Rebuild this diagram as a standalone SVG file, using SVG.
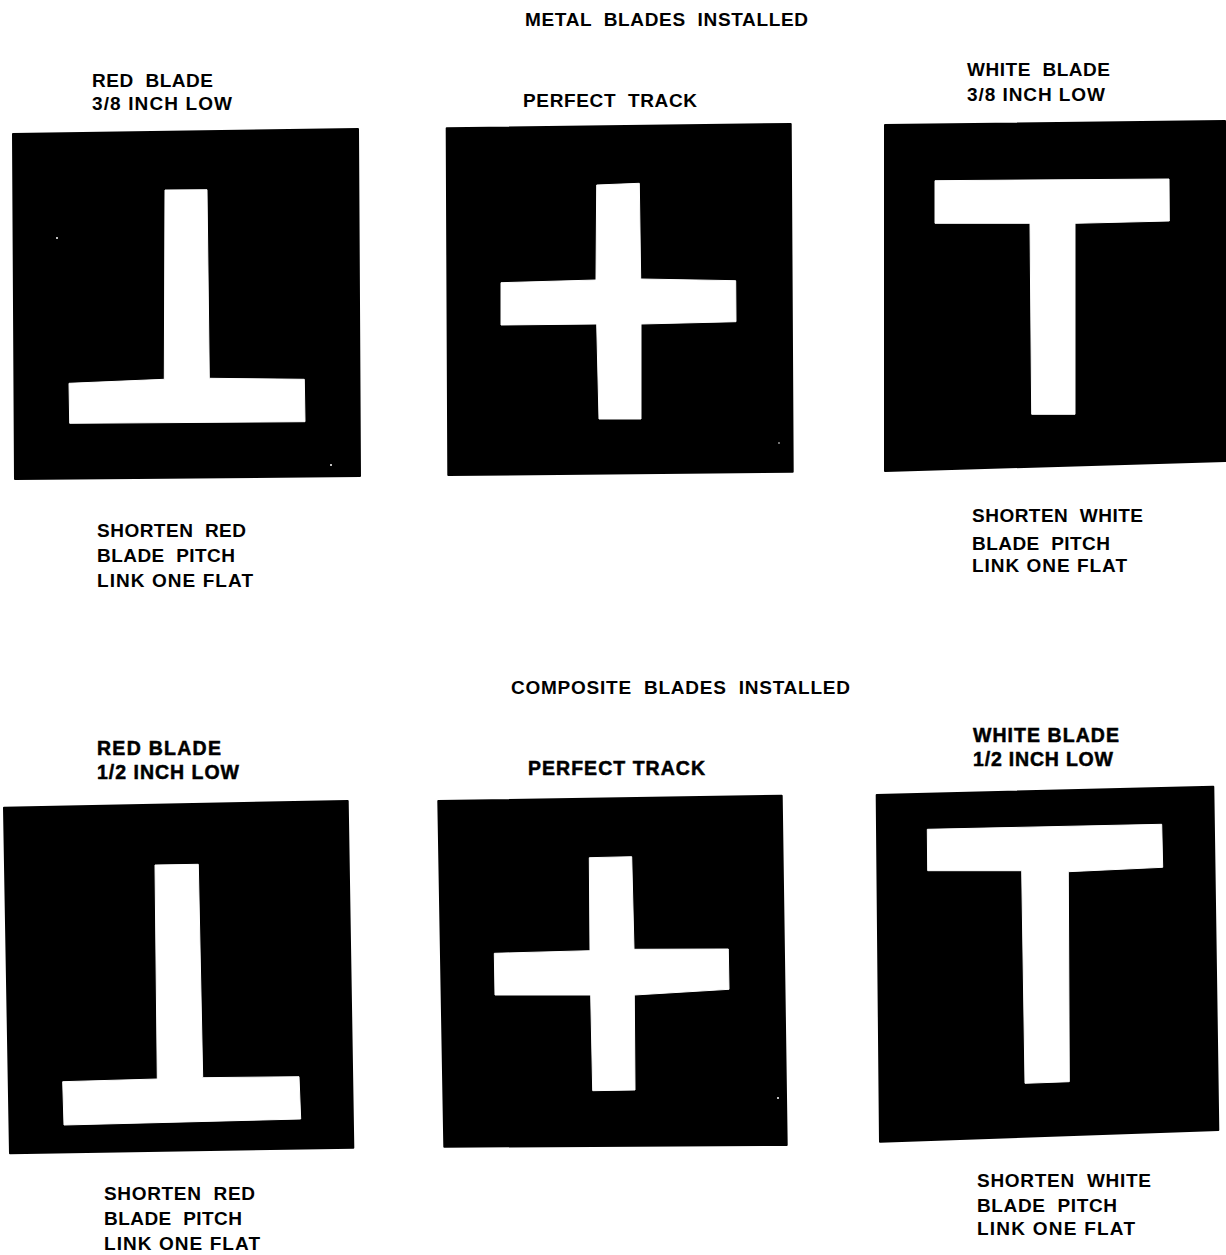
<svg xmlns="http://www.w3.org/2000/svg" width="1226" height="1255" viewBox="0 0 1226 1255" xml:space="preserve">
<style>
.bg{fill:#ffffff}
.panel{fill:#000000;stroke:#000000;stroke-width:2;stroke-linejoin:round}
.mark{fill:#ffffff;stroke:#ffffff;stroke-width:1;stroke-linejoin:round}
.speck{fill:#ffffff}
.lbl{font-family:"Liberation Sans",Arial,Helvetica,sans-serif;font-weight:bold;font-size:19px;fill:#000000;white-space:pre}
.lbl2{font-family:"Liberation Sans",Arial,Helvetica,sans-serif;font-weight:bold;font-size:19.5px;fill:#000000;stroke:#000000;stroke-width:0.5;white-space:pre}
</style>
<rect class="bg" x="0" y="0" width="1226" height="1255"/>
<g id="title-metal"><text class="lbl" x="525" y="26" textLength="283" lengthAdjust="spacing">METAL  BLADES  INSTALLED</text></g>
<g id="metal-red"><text class="lbl" x="92" y="87" textLength="121" lengthAdjust="spacing">RED  BLADE</text><text class="lbl" x="92" y="110" textLength="140" lengthAdjust="spacing">3/8 INCH LOW</text><polygon class="panel" points="13,134 358,129 360,476 15,479"/><polygon class="mark" points="165,190 207,189.7 209.3,378.3 304.3,379.3 305,421.7 69.7,423.3 69,383.3 164.3,379.3"/><circle class="speck" cx="57" cy="238" r="1"/><circle class="speck" cx="331" cy="465" r="1"/><text class="lbl" x="97" y="537" textLength="149" lengthAdjust="spacing">SHORTEN  RED</text><text class="lbl" x="97" y="562" textLength="138" lengthAdjust="spacing">BLADE  PITCH</text><text class="lbl" x="97" y="587" textLength="156" lengthAdjust="spacing">LINK ONE FLAT</text></g>
<g id="metal-perfect"><text class="lbl" x="523" y="107" textLength="174" lengthAdjust="spacing">PERFECT  TRACK</text><polygon class="panel" points="446.7,128.3 790.7,124 792.7,471.7 448.3,475"/><polygon class="mark" points="596.7,185 639.3,183.3 640.7,279 735.7,280.7 736,321.7 641,324 641,419 599,419 596.7,324 501,325 501,282.7 596,280"/><circle class="speck" cx="779" cy="443" r="0.8"/></g>
<g id="metal-white"><text class="lbl" x="967" y="76" textLength="143" lengthAdjust="spacing">WHITE  BLADE</text><text class="lbl" x="967" y="101" textLength="138" lengthAdjust="spacing">3/8 INCH LOW</text><polygon class="panel" points="885,125 1225,121 1225.5,461 885,471"/><polygon class="mark" points="935,180.7 1169,179 1169.3,221 1075,223.3 1075,414.3 1031.7,414.3 1030,223.3 935,223.3"/><text class="lbl" x="972" y="522" textLength="171" lengthAdjust="spacing">SHORTEN  WHITE</text><text class="lbl" x="972" y="550" textLength="138" lengthAdjust="spacing">BLADE  PITCH</text><text class="lbl" x="972" y="572" textLength="155" lengthAdjust="spacing">LINK ONE FLAT</text></g>
<g id="title-composite"><text class="lbl" x="511" y="694" textLength="339" lengthAdjust="spacing">COMPOSITE  BLADES  INSTALLED</text></g>
<g id="composite-red"><text class="lbl2" x="97" y="755" textLength="124" lengthAdjust="spacing">RED BLADE</text><text class="lbl2" x="97" y="779" textLength="142" lengthAdjust="spacing">1/2 INCH LOW</text><polygon class="panel" points="4,807.7 347.7,801 353.3,1147.7 10,1153.3"/><polygon class="mark" points="155,865 198.3,864.3 202.7,1077.7 299,1076.7 300.7,1119 64,1125 62.7,1081.7 157.3,1079"/><text class="lbl" x="104" y="1200" textLength="151" lengthAdjust="spacing">SHORTEN  RED</text><text class="lbl" x="104" y="1225" textLength="138" lengthAdjust="spacing">BLADE  PITCH</text><text class="lbl" x="104" y="1250" textLength="156" lengthAdjust="spacing">LINK ONE FLAT</text></g>
<g id="composite-perfect"><text class="lbl2" x="528" y="775" textLength="177" lengthAdjust="spacing">PERFECT TRACK</text><polygon class="panel" points="438.3,801 781.7,795.7 786.7,1145 444.3,1146.7"/><polygon class="mark" points="589.3,857.7 631.7,856.7 634,949.3 728.3,949 729,989.3 634.3,995 635,1090 592.7,1090.7 590.7,995 495,995 494.3,953.3 590,950.7"/><circle class="speck" cx="778" cy="1098" r="1"/></g>
<g id="composite-white"><text class="lbl2" x="973" y="742" textLength="146" lengthAdjust="spacing">WHITE BLADE</text><text class="lbl2" x="973" y="766" textLength="140" lengthAdjust="spacing">1/2 INCH LOW</text><polygon class="panel" points="876.7,795 1213.3,786.7 1218.3,1130 880,1141.7"/><polygon class="mark" points="927.3,829.3 1161.7,824.3 1162.7,867.3 1068.3,871.7 1069.3,1081.7 1025,1083.3 1021.7,870.7 927.7,870.7"/><text class="lbl" x="977" y="1187" textLength="174" lengthAdjust="spacing">SHORTEN  WHITE</text><text class="lbl" x="977" y="1212" textLength="140" lengthAdjust="spacing">BLADE  PITCH</text><text class="lbl" x="977" y="1235" textLength="158" lengthAdjust="spacing">LINK ONE FLAT</text></g>
<g id="connectors"></g>
</svg>
